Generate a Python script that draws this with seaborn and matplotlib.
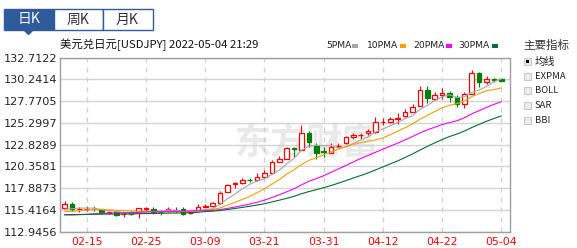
import numpy as np
import pandas as pd
import matplotlib
matplotlib.use("Agg")
import matplotlib.pyplot as plt
import seaborn as sns
from matplotlib.patches import Rectangle, Polygon

# ---------------- data ----------------
dates = ["02-10", "02-11", "02-14", "02-15", "02-16", "02-17", "02-18", "02-21", "02-22", "02-23",
         "02-24", "02-25", "02-28", "03-01", "03-02", "03-03", "03-04", "03-07", "03-08", "03-09",
         "03-10", "03-11", "03-14", "03-15", "03-16", "03-17", "03-18", "03-21", "03-22", "03-23",
         "03-24", "03-25", "03-28", "03-29", "03-30", "03-31", "04-01", "04-04", "04-05", "04-06",
         "04-07", "04-08", "04-11", "04-12", "04-13", "04-14", "04-15", "04-18", "04-19", "04-20",
         "04-21", "04-22", "04-25", "04-26", "04-27", "04-28", "04-29", "05-02", "05-03", "05-04"]

opens = [115.59, 116.05, 115.50, 115.50, 115.55, 115.48, 115.10, 115.14, 114.90, 115.10,
         115.20, 115.55, 115.52, 115.17, 115.25, 115.43, 115.52, 115.05, 115.40, 115.80,
         115.86, 116.16, 117.48, 118.40, 118.43, 118.80, 118.80, 119.18, 119.55, 120.89,
         121.20, 122.40, 122.20, 124.10, 122.67, 122.05, 121.90, 122.65, 122.97, 123.70,
         123.88, 124.10, 124.22, 125.40, 125.43, 125.78, 126.03, 126.56, 127.20, 129.02,
         128.04, 128.50, 128.65, 128.20, 127.40, 128.57, 130.92, 129.90, 130.22, 130.27]
closes = [116.05, 115.50, 115.52, 115.52, 115.52, 115.14, 115.15, 114.83, 114.95, 114.90,
          115.59, 115.60, 115.14, 115.14, 115.52, 115.40, 114.90, 115.10, 115.78, 115.86,
          116.16, 117.37, 118.24, 118.43, 118.80, 118.77, 119.20, 119.55, 120.89, 121.15,
          122.40, 122.35, 124.10, 123.15, 121.84, 122.00, 122.60, 122.67, 123.65, 123.90,
          123.90, 124.37, 125.43, 125.43, 125.70, 125.80, 126.50, 127.06, 129.02, 128.08,
          128.42, 128.65, 128.26, 127.40, 128.53, 130.92, 129.97, 130.27, 130.20, 130.00]
highs = [116.42, 116.30, 115.70, 115.86, 115.85, 115.55, 115.35, 115.20, 115.20, 115.25,
         115.66, 115.75, 115.80, 115.40, 115.80, 115.70, 115.70, 115.40, 116.05, 116.05,
         116.30, 117.55, 118.40, 118.60, 119.05, 119.00, 119.55, 119.90, 121.05, 121.50,
         122.50, 122.55, 125.05, 124.40, 122.97, 122.50, 123.05, 122.97, 123.85, 124.10,
         124.10, 124.60, 125.98, 125.80, 126.00, 126.45, 126.83, 127.40, 129.45, 129.48,
         128.76, 129.20, 128.90, 128.45, 128.76, 131.29, 131.10, 130.60, 130.40, 130.27]
lows = [115.50, 115.35, 115.20, 115.29, 115.35, 115.05, 114.95, 114.75, 114.64, 114.85,
        114.46, 115.35, 114.95, 114.85, 115.15, 115.10, 114.80, 114.95, 115.40, 115.70,
        115.75, 116.10, 117.50, 117.95, 118.35, 118.55, 118.70, 119.10, 119.55, 120.90,
        121.20, 121.40, 122.20, 122.60, 121.15, 121.40, 121.84, 122.40, 122.90, 123.50,
        123.46, 123.90, 124.20, 125.05, 125.30, 125.20, 126.00, 126.56, 127.20, 127.50,
        127.85, 127.97, 127.70, 127.06, 126.95, 128.57, 129.40, 129.70, 129.90, 130.00]

ma5 = [115.49, 115.55, 115.63, 115.63, 115.62, 115.44, 115.37, 115.23, 115.12, 114.99,
       115.08, 115.17, 115.24, 115.27, 115.40, 115.36, 115.22, 115.21, 115.34, 115.41,
       115.56, 116.05, 116.68, 117.21, 117.80, 118.32, 118.69, 118.95, 119.44, 119.91,
       120.64, 121.27, 122.18, 122.63, 122.77, 122.69, 122.74, 122.45, 122.55, 122.96,
       123.34, 123.70, 124.25, 124.61, 124.97, 125.35, 125.77, 126.10, 126.82, 127.29,
       127.82, 128.25, 128.49, 128.16, 128.25, 128.75, 129.02, 129.42, 129.98, 130.27]
ma10 = [115.22, 115.26, 115.33, 115.41, 115.45, 115.47, 115.42, 115.38, 115.35, 115.31,
        115.26, 115.27, 115.23, 115.20, 115.20, 115.22, 115.20, 115.22, 115.31, 115.40,
        115.46, 115.64, 115.95, 116.28, 116.60, 116.94, 117.37, 117.82, 118.33, 118.86,
        119.48, 119.98, 120.56, 121.04, 121.34, 121.66, 122.00, 122.32, 122.59, 122.87,
        123.02, 123.22, 123.35, 123.58, 123.97, 124.35, 124.74, 125.17, 125.71, 126.13,
        126.58, 127.01, 127.29, 127.49, 127.77, 128.28, 128.63, 128.95, 129.07, 129.26]
ma20 = [114.85, 114.85, 114.88, 114.92, 114.98, 115.02, 115.05, 115.08, 115.10, 115.12,
        115.15, 115.18, 115.20, 115.22, 115.25, 115.27, 115.28, 115.30, 115.33, 115.36,
        115.36, 115.45, 115.59, 115.74, 115.90, 116.08, 116.28, 116.52, 116.82, 117.13,
        117.47, 117.81, 118.26, 118.66, 118.97, 119.30, 119.69, 120.07, 120.46, 120.86,
        121.25, 121.60, 121.96, 122.31, 122.65, 123.00, 123.37, 123.74, 124.15, 124.50,
        124.80, 125.11, 125.32, 125.53, 125.87, 126.31, 126.68, 127.06, 127.39, 127.70]
ma30 = [114.88, 114.88, 114.90, 114.90, 114.92, 114.93, 114.95, 114.95, 114.96, 114.97,
        114.99, 115.00, 115.02, 115.03, 115.05, 115.07, 115.09, 115.11, 115.14, 115.23,
        115.27, 115.35, 115.46, 115.58, 115.70, 115.83, 115.97, 116.12, 116.32, 116.52,
        116.73, 116.96, 117.25, 117.50, 117.71, 117.94, 118.19, 118.45, 118.74, 119.04,
        119.32, 119.61, 119.95, 120.30, 120.64, 120.98, 121.37, 121.77, 122.21, 122.62,
        123.03, 123.40, 123.74, 124.03, 124.36, 124.76, 125.12, 125.48, 125.79, 126.09]

ytick_values = [112.9456, 115.4164, 117.8873, 120.3581, 122.8289, 125.2997, 127.7705, 130.2414, 132.7122]
xtick_labels = ["02-15", "02-25", "03-09", "03-21", "03-31", "04-12", "04-22", "05-04"]
ma_names = ["5PMA", "10PMA", "20PMA", "30PMA"]
ma_colors = ["#A6A6A6", "#F2A100", "#FF00FF", "#006F30"]
indicator_items = ["均线", "EXPMA", "BOLL", "SAR", "BBI"]
tabs = ["日K", "周K", "月K"]

# ---------------- frame ----------------
df = pd.DataFrame({"date": dates, "open": opens, "close": closes, "high": highs, "low": lows,
                   "5PMA": ma5, "10PMA": ma10, "20PMA": ma20, "30PMA": ma30})
df["pos"] = np.arange(len(df))
up = df["close"] >= df["open"]

sns.set_theme(style="white")
plt.rcParams["font.family"] = ["DejaVu Sans", "Noto Sans CJK SC"]

W, H = 577, 248
fig = plt.figure(figsize=(W / 100, H / 100), dpi=100, facecolor="white")

# overlay in pixel coordinates (behind main axes)
ov = fig.add_axes([0, 0, 1, 1])
ov.set_xlim(0, W)
ov.set_ylim(H, 0)
ov.axis("off")
ov.set_zorder(0)

L, R, T, B = 59.5, 509.5, 57.5, 231.7
ax = fig.add_axes([L / W, 1 - B / H, (R - L) / W, (B - T) / H])
ax.set_zorder(1)
ax.patch.set_alpha(0)

# watermark
ov.text(307, 143, "东方财富", fontsize=26, fontweight="bold", color="#E9E9E9",
        ha="center", va="center", family=["Noto Sans CJK SC"])

# grid
ax.set_ylim(ytick_values[0], ytick_values[-1])
ax.set_xlim(-0.68, 60.1)
ax.set_yticks(ytick_values)
ax.set_yticklabels([f"{v:.4f}" for v in ytick_values])
xt = [dates.index(d) for d in xtick_labels]
ax.set_xticks(xt)
ax.set_xticklabels(xtick_labels)
ax.yaxis.grid(True, color="#D4D4D4", lw=1.0, ls="-")
ax.xaxis.grid(True, color="#CFCFCF", lw=0.9, ls=(0, (4, 4)))
ax.set_axisbelow(True)
for s in ax.spines.values():
    s.set_color("#9E9E9E")
    s.set_linewidth(1.0)
ax.tick_params(axis="y", length=0, pad=2, labelsize=8.1, labelcolor="#222222")
ax.tick_params(axis="x", length=0, pad=4, labelsize=7.8, labelcolor="#FF0000")

# candles
bw = 0.62
body_lo = np.minimum(df["open"], df["close"])
body_h = np.maximum(np.abs(df["close"] - df["open"]), 0.001)
ax.vlines(df["pos"][up], df["low"][up], df["high"][up], color="#FF0000", lw=0.8, zorder=3)
ax.vlines(df["pos"][~up], df["low"][~up], df["high"][~up], color="#008000", lw=0.8, zorder=3)
ax.bar(df["pos"][up], body_h[up], bottom=body_lo[up], width=bw, facecolor="white",
       edgecolor="#FF0000", linewidth=0.9, zorder=4)
ax.bar(df["pos"][~up], body_h[~up], bottom=body_lo[~up], width=bw, facecolor="#008000",
       edgecolor="#008000", linewidth=0.9, zorder=4)

# moving averages
for name, col in zip(ma_names, ma_colors):
    sns.lineplot(data=df, x="pos", y=name, ax=ax, color=col, lw=0.8, zorder=5)
ax.set_xlabel("")
ax.set_ylabel("")

# ---------------- decorations ----------------
blue = "#2F5A9C"
ov.add_patch(Rectangle((3.5, 8.5), 50, 21.5, facecolor=blue, edgecolor=blue, lw=1))
ov.add_patch(Polygon([(24, 30), (33, 30), (28.5, 34.5)], closed=True, facecolor=blue, edgecolor=blue))
ov.add_patch(Rectangle((53.5, 8.5), 49, 21.5, facecolor="white", edgecolor=blue, lw=1))
ov.add_patch(Rectangle((102.5, 8.5), 50, 21.5, facecolor="white", edgecolor=blue, lw=1))
for i, (t, cx) in enumerate(zip(tabs, [28.5, 78, 127.5])):
    ov.text(cx, 19.5, t, ha="center", va="center", fontsize=10,
            color="white" if i == 0 else "#333333", family=["Noto Sans CJK SC", "DejaVu Sans"])

ov.text(60, 45, "美元兑日元[USDJPY] 2022-05-04 21:29", ha="left", va="center", fontsize=8.2,
        color="#111111", family=["Noto Sans CJK SC", "DejaVu Sans"])

leg_x = [326, 367, 413, 458]
sq_x = [351.5, 400, 445.5, 491.5]
for name, col, tx, sx in zip(ma_names, ma_colors, leg_x, sq_x):
    ov.text(tx, 45.5, name, ha="left", va="center", fontsize=6.6, color="#222222",
            family=["DejaVu Sans Condensed", "DejaVu Sans"])
    ov.add_patch(Rectangle((sx, 43.5), 6, 4, facecolor=col, edgecolor="none"))

ov.text(523.5, 45, "主要指标", ha="left", va="center", fontsize=8.3, color="#333333",
        family=["Noto Sans CJK SC", "DejaVu Sans"])
for k, item in enumerate(indicator_items):
    cy = 61.7 + k * 14.6
    ov.add_patch(Rectangle((524, cy - 3.5), 7, 7, facecolor="#ECECEC", edgecolor="#C9C9C9", lw=0.8))
    if k == 0:
        ov.add_patch(Rectangle((525.8, cy - 1.7), 3.4, 3.4, facecolor="black", edgecolor="none"))
    ov.text(535, cy, item, ha="left", va="center", fontsize=7.4 if k == 0 else 6.8,
            color="#222222", family=["Noto Sans CJK SC", "DejaVu Sans"])

fig.savefig("out.png", dpi=100, facecolor="white")
